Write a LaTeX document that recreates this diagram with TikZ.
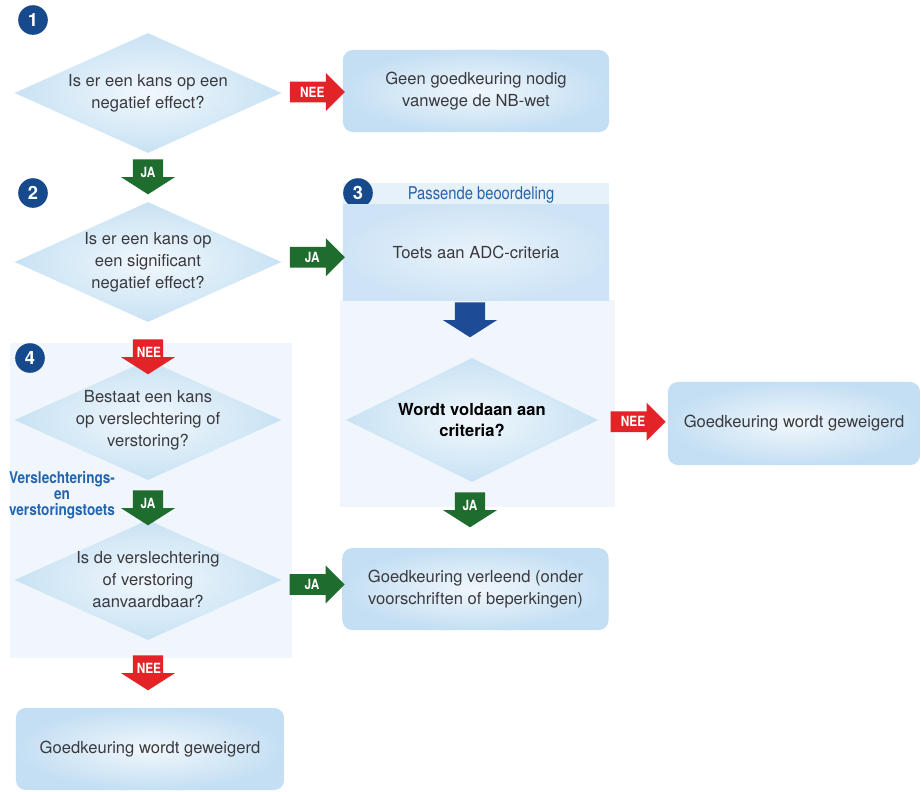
\documentclass[tikz,border=0pt]{standalone}
\usepackage{fontspec}
\setmainfont{TeX Gyre Heros}
\newfontfamily\condfont{TeX Gyre Heros}[FakeStretch=0.84]
\usetikzlibrary{positioning,calc,shapes.geometric,shapes.arrows}

\definecolor{diablue}{RGB}{200,226,244}
\definecolor{boxblue}{RGB}{196,223,243}
\definecolor{toetsblue}{RGB}{206,228,246}
\definecolor{panelfill}{RGB}{240,246,251}
\definecolor{stripfill}{RGB}{230,241,250}
\definecolor{numblue}{RGB}{22,74,140}
\definecolor{labelblue}{RGB}{35,100,175}
\definecolor{neered}{RGB}{226,36,40}
\definecolor{jagreen}{RGB}{30,108,46}
\definecolor{arrowblue}{RGB}{30,75,150}
\definecolor{darktext}{RGB}{58,58,62}

\newcommand\qfont{\fontsize{11.8}{15.6}\selectfont}
\newcommand\arrowfont{\condfont\bfseries\fontsize{10}{10}\selectfont}

\tikzset{
qtext/.style={align=center, text=darktext, font=\qfont},
dia/.style={shape=diamond, inner sep=0pt, minimum width=6.675cm, minimum height=3cm,
            shade, inner color=diablue!25, outer color=diablue},
box/.style={rectangle, rounded corners=7pt, minimum width=6.65cm, minimum height=2.05cm,
            shade, inner color=white!75!boxblue, outer color=boxblue, qtext},
numnode/.style={circle, fill=numblue, text=white, inner sep=0pt, minimum size=0.74cm,
                font=\bfseries\fontsize{13}{13}\selectfont},
bluetext/.style={text=labelblue, align=center, font=\condfont\bfseries\fontsize{11.5}{11.5}\selectfont},
flowright/.style={single arrow, text=white, font=\arrowfont, inner xsep=3pt, inner ysep=3.5pt,
                  single arrow head extend=0.22cm, minimum height=1.375cm},
flowdown/.style={single arrow, shape border rotate=270, text=white, font=\arrowfont,
                 text width=16pt, align=center, inner xsep=2.5pt, inner ysep=3pt,
                 single arrow head extend=0.3cm, single arrow tip angle=115,
                 minimum height=0.875cm},
neeright/.style={flowright, fill=neered},
jaright/.style={flowright, fill=jagreen},
needown/.style={flowdown, fill=neered},
jadown/.style={flowdown, fill=jagreen},
bluedown/.style={flowdown, fill=arrowblue}
}

\begin{document}
\begin{tikzpicture}[x=0.025cm, y=-0.025cm]
\useasboundingbox (0,0) rectangle (921,791);

% Panels
\fill[panelfill] (10,343) rectangle (292,658);
\fill[stripfill] (343,183) rectangle (609,205);
\fill[panelfill] (340,300) rectangle (615,507);

% Step 1
\node[numnode] (n1) at (33,20) {1};
\node[dia, label={[qtext]center:Is er een kans op een\\negatief effect?}] (d1) at (148,93) {};
\node[box] (geen) at (476,91) {Geen goedkeuring nodig\\vanwege de NB-wet};

% Step 2
\node[numnode] (n2) at (33,193) {2};
\node[dia, label={[qtext]center:Is er een kans op\\een significant\\negatief effect?}] (d2) at (148,262) {};

% Step 3
\node[numnode] (n3) at (358,193) {3};
\node[bluetext, font=\condfont\fontsize{12.5}{13}\selectfont] (passend) at (481,195) {Passende beoordeling};
\node[rectangle, minimum width=6.65cm, minimum height=2.375cm, shade, inner color=toetsblue!45,
      outer color=toetsblue, qtext] (toets) at (476,252.5) {Toets aan ADC-criteria};
\node[dia, minimum width=6.3cm, minimum height=3.1cm,
      label={[qtext, text=black, font=\bfseries\qfont]center:Wordt voldaan aan\\criteria?}] (d3) at (472,420) {};
\node[box, minimum width=6.3cm, minimum height=2.075cm] (geweigerd1) at (794,423.5) {Goedkeuring wordt geweigerd};
\node[box] (verleend) at (475.5,589) {Goedkeuring verleend (onder\\voorschriften of beperkingen)};

% Step 4
\node[numnode] (n4) at (30,358) {4};
\node[dia, label={[qtext]center:Bestaat een kans\\op verslechtering of\\verstoring?}] (d4) at (148,420) {};
\node[bluetext] (toetslabel) at (62,495) {Verslechterings-\\en\\verstoringstoets};
\node[dia, label={[qtext]center:Is de verslechtering\\of verstoring\\aanvaardbaar?}] (d5) at (148,580) {};
\node[box, minimum width=6.7cm] (geweigerd2) at (150,749) {Goedkeuring wordt geweigerd};

% Arrows
\node[neeright] (nee1) at ($(d1.east)!0.5!(geen.west)$) {NEE};
\node[jadown] (ja1) at (148,172) {JA};
\node[jaright] (ja2) at ($(d2.east)!0.5!(toets.west)$) {JA};
\node[needown] (nee2) at (148,352) {NEE};
\node[bluedown] (blauw) at (470,315) {};
\node[neeright] (nee3) at ($(d3.east)!0.5!(geweigerd1.west)$) {NEE};
\node[jadown] (ja3) at (470,505) {JA};
\node[jadown] (ja4) at (148,503) {JA};
\node[jaright] (ja5) at ($(d5.east)!0.5!(verleend.west)$) {JA};
\node[needown] (nee4) at (148,668) {NEE};

\end{tikzpicture}
\end{document}
